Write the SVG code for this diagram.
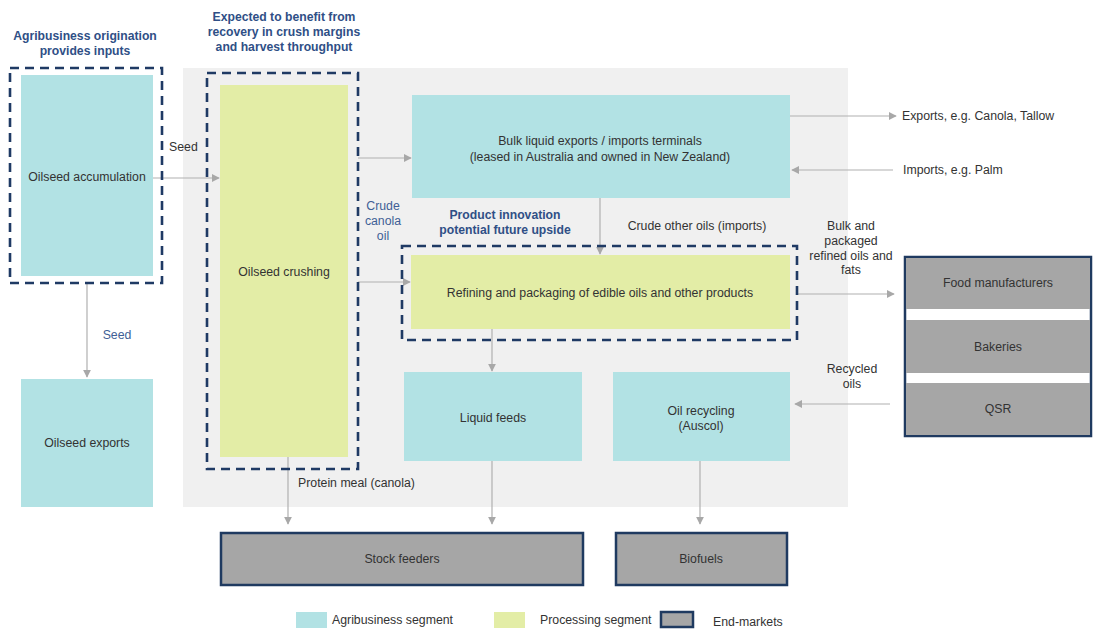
<svg xmlns="http://www.w3.org/2000/svg" width="1093" height="630" viewBox="0 0 1093 630">
<defs>
<marker id="ah" viewBox="0 0 10 10" refX="9" refY="5" markerWidth="8" markerHeight="8" markerUnits="userSpaceOnUse" orient="auto">
<path d="M0,0 L10,5 L0,10 z" fill="#a8a8a8"/>
</marker>
<style>
text{font-family:"Liberation Sans",Arial,sans-serif;font-size:12.3px;fill:#333;}
.c{text-anchor:middle;}
.title{font-weight:bold;fill:#2f4f86;font-size:12.2px;}
.blue{fill:#3f5f96;}
.agri{fill:#b2e2e4;}
.proc{fill:#e3eda6;}
.end{fill:#a6a6a6;stroke:#1f3a60;stroke-width:2.5;}
.dash{fill:none;stroke:#1f3a64;stroke-width:2.6;stroke-dasharray:9 6;}
.arr{fill:none;stroke:#b0b0b0;stroke-width:1.2;marker-end:url(#ah);}
</style>
</defs>
<rect width="1093" height="630" fill="#ffffff"/>
<rect x="183" y="68" width="665" height="439" fill="#f0f0f0"/>

<g id="connectors">
<path class="arr" d="M153,178 L219,178"/>
<path class="arr" d="M87,283 L87,377"/>
<path class="arr" d="M358,158 L411,158"/>
<path class="arr" d="M358,282 L410,282"/>
<path class="arr" d="M600,198 L600,254"/>
<path class="arr" d="M790,116 L896,116"/>
<path class="arr" d="M893,170 L792,170"/>
<path class="arr" d="M798,294 L894,294"/>
<path class="arr" d="M890,404 L795,404"/>
<path class="arr" d="M492,329 L492,371"/>
<path class="arr" d="M288,457 L288,524"/>
<path class="arr" d="M492,460 L492,524"/>
<path class="arr" d="M700,460 L700,524"/>
<text x="169" y="151">Seed</text>
<text x="117" y="339" class="c blue">Seed</text>
<text x="383" y="210" class="c blue">Crude</text>
<text x="383" y="225" class="c blue">canola</text>
<text x="383" y="240" class="c blue">oil</text>
<text x="697" y="230" class="c">Crude other oils (imports)</text>
<text x="902" y="120">Exports, e.g. Canola, Tallow</text>
<text x="903" y="174">Imports, e.g. Palm</text>
<text x="851" y="230" class="c">Bulk and</text>
<text x="851" y="245" class="c">packaged</text>
<text x="851" y="260" class="c">refined oils and</text>
<text x="851" y="274" class="c">fats</text>
<text x="852" y="373" class="c">Recycled</text>
<text x="852" y="388" class="c">oils</text>
<text x="298" y="487">Protein meal (canola)</text>
</g>

<g id="agri-origination">
<text x="85" y="40" class="c title">Agribusiness origination</text>
<text x="85" y="55" class="c title">provides inputs</text>
<rect x="21" y="75" width="132" height="201" class="agri"/>
<rect x="10" y="68" width="152" height="215" class="dash"/>
<text x="87" y="181" class="c">Oilseed accumulation</text>
</g>

<g id="oilseed-exports">
<rect x="21" y="379" width="132" height="128" class="agri"/>
<text x="87" y="447" class="c">Oilseed exports</text>
</g>

<g id="oilseed-crushing">
<text x="284" y="21" class="c title">Expected to benefit from</text>
<text x="284" y="36" class="c title">recovery in crush margins</text>
<text x="284" y="51" class="c title">and harvest throughput</text>
<rect x="220" y="85" width="128" height="372" class="proc"/>
<rect x="207" y="73" width="151" height="396" class="dash"/>
<text x="284" y="276" class="c">Oilseed crushing</text>
</g>

<g id="bulk-terminals">
<rect x="412" y="95" width="378" height="103" class="agri"/>
<text x="600" y="145" class="c">Bulk liquid exports / imports terminals</text>
<text x="600" y="161" class="c">(leased in Australia and owned in New Zealand)</text>
</g>

<g id="refining">
<text x="505" y="219" class="c title">Product innovation</text>
<text x="505" y="234" class="c title">potential future upside</text>
<rect x="411" y="255" width="379" height="74" class="proc"/>
<rect x="402" y="246" width="395" height="94" class="dash"/>
<text x="600" y="297" class="c">Refining and packaging of edible oils and other products</text>
</g>

<g id="liquid-feeds">
<rect x="404" y="372" width="178" height="89" class="agri"/>
<text x="493" y="422" class="c">Liquid feeds</text>
</g>

<g id="oil-recycling">
<rect x="613" y="372" width="177" height="89" class="agri"/>
<text x="701" y="415" class="c">Oil recycling</text>
<text x="701" y="430" class="c">(Auscol)</text>
</g>

<g id="end-markets">
<rect x="905" y="257" width="186" height="179" fill="#ffffff" stroke="#1f3a60" stroke-width="2.5"/>
<rect x="906" y="258" width="184" height="51" fill="#a6a6a6"/>
<rect x="906" y="320" width="184" height="53" fill="#a6a6a6"/>
<rect x="906" y="383" width="184" height="52" fill="#a6a6a6"/>
<text x="998" y="287" class="c">Food manufacturers</text>
<text x="998" y="351" class="c">Bakeries</text>
<text x="998" y="413" class="c">QSR</text>
</g>

<g id="stock-feeders">
<rect x="221" y="533" width="362" height="52" class="end"/>
<text x="402" y="563" class="c">Stock feeders</text>
</g>

<g id="biofuels">
<rect x="616" y="533" width="171" height="52" class="end"/>
<text x="701" y="563" class="c">Biofuels</text>
</g>

<g id="legend">
<rect x="296" y="612" width="31" height="16" class="agri"/>
<text x="332" y="624">Agribusiness segment</text>
<rect x="494" y="612" width="31" height="16" class="proc"/>
<text x="540" y="624">Processing segment</text>
<rect x="661" y="612" width="32" height="15" class="end"/>
<text x="713" y="626">End-markets</text>
</g>
</svg>
